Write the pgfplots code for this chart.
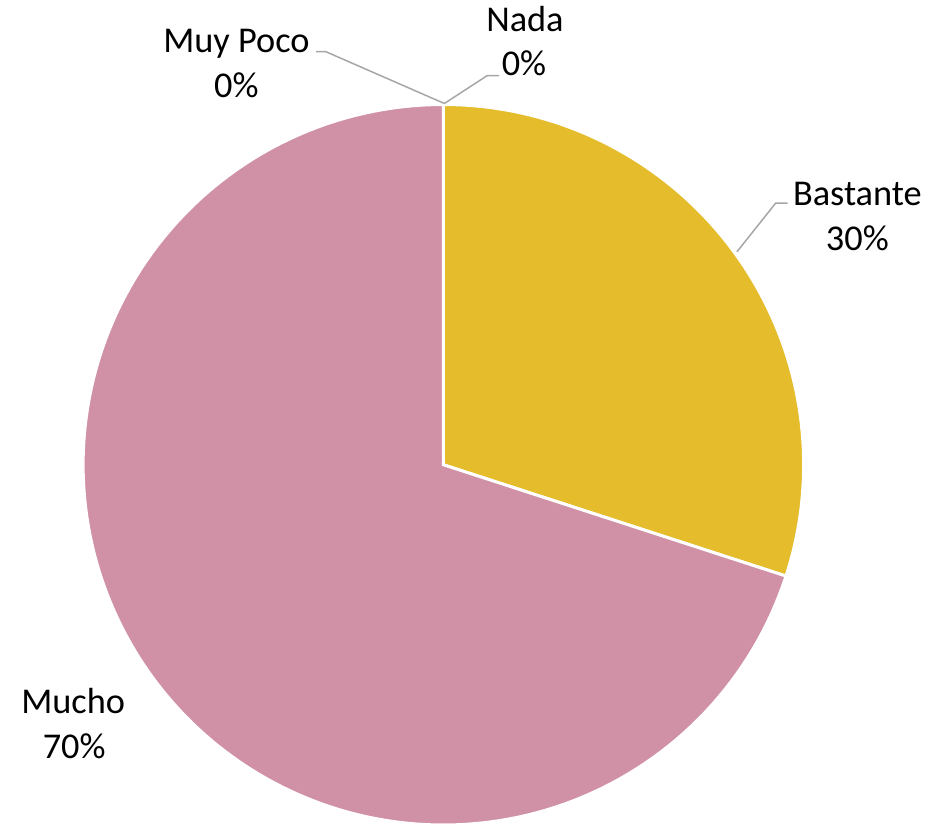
\documentclass[border=0pt]{standalone}
\usepackage{fontspec}
\setmainfont{Carlito}
\usepackage{pgfplots}
\usepackage{pgfplotstable}
\pgfplotsset{compat=1.18}

\definecolor{bastante}{HTML}{E5BC2B}
\definecolor{mucho}{HTML}{D091A6}
\definecolor{leader}{HTML}{A6A6A6}

% share of each answer, in percent
\pgfplotstableread[col sep=comma]{
label,value
Nada,0
Muy Poco,0
Bastante,30
Mucho,70
}\piedata

\tikzset{lbl/.style={anchor=base, inner sep=0pt, font=\fontsize{36.5bp}{45bp}\selectfont}}

\begin{document}
\pgfplotstablegetelem{2}{value}\of\piedata \let\vBastante\pgfplotsretval
\pgfplotstablegetelem{3}{value}\of\piedata \let\vMucho\pgfplotsretval
% slices run clockwise from the top
\pgfmathsetmacro{\aB}{90-3.6*\vBastante}
\pgfmathsetmacro{\aM}{\aB-3.6*\vMucho}
\begin{tikzpicture}
\begin{axis}[
    scale only axis,
    width=932bp, height=829bp,
    xmin=0, xmax=932, ymin=0, ymax=829,
    hide axis, clip=false,
]
% pie slices
\addplot[fill=bastante, draw=white, line width=3bp, domain=\aB:90, samples=80]
    ({441+362*cos(x)},{362+362*sin(x)}) -- (axis cs:441,362) -- cycle;
\addplot[fill=mucho, draw=white, line width=3bp, domain=\aM:\aB, samples=160]
    ({441+362*cos(x)},{362+362*sin(x)}) -- (axis cs:441,362) -- cycle;
% leader lines
\addplot[leader, line width=1.5bp] coordinates {(313,777)(323,777)(442,725)};
\addplot[leader, line width=1.5bp] coordinates {(442,725)(485,753)(497,753)};
\addplot[leader, line width=1.5bp] coordinates {(787,625)(775,625)(736,576)};
% labels
\node[lbl] at (axis cs:233,776) {Muy Poco};
\node[lbl] at (axis cs:233,731) {0\%};
\node[lbl] at (axis cs:523,797) {Nada};
\node[lbl] at (axis cs:522,753) {0\%};
\node[lbl] at (axis cs:857,623) {Bastante};
\node[lbl] at (axis cs:857,577) {30\%};
\node[lbl] at (axis cs:69,112) {Mucho};
\node[lbl] at (axis cs:70,67) {70\%};
\end{axis}
\pgfresetboundingbox
\useasboundingbox (0,0) rectangle (932bp,829bp);
\end{tikzpicture}
\end{document}
